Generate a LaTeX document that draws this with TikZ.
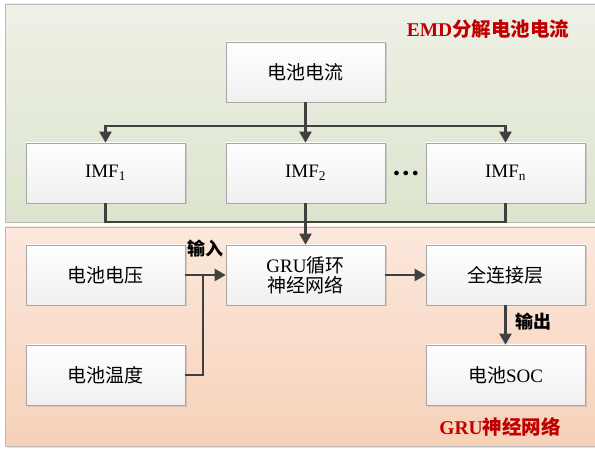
\documentclass[tikz,border=0pt]{standalone}
\usepackage{fontspec}
\setmainfont{Liberation Serif}
\newfontfamily\cjk{Noto Sans CJK SC}
\usetikzlibrary{arrows.meta,shadows}
\definecolor{linec}{HTML}{404040}
\definecolor{redc}{HTML}{C00000}
\definecolor{gtop}{HTML}{EEF1E6}
\definecolor{gbot}{HTML}{DCE4CE}
\definecolor{otop}{HTML}{FCE8DD}
\definecolor{obot}{HTML}{F6D1B8}
\tikzset{
  blk/.style={draw=gray!70, line width=0.6pt, top color=white, bottom color=gray!12,
    minimum width=159pt, minimum height=60pt, inner sep=0pt, align=center,
    font=\fontsize{19}{22}\selectfont, drop shadow={shadow xshift=1.5pt, shadow yshift=-1.5pt, opacity=0.25}},
  conn/.style={draw=linec, line width=2.2pt},
  arr/.style={conn, -{Triangle[length=11pt,width=12pt]}},
  lbl/.style={font=\cjk\fontsize{18}{20}\selectfont\bfseries},
  title/.style={font=\fontsize{19.5}{22}\selectfont\bfseries, text=redc},
  panel/.style={draw=gray!55, line width=0.8pt, drop shadow={shadow xshift=1.5pt, shadow yshift=-1.5pt, opacity=0.2}}
}
\begin{document}
\begin{tikzpicture}[x=1pt,y=-1pt]
\useasboundingbox (0,0) rectangle (595,449);
\begin{scope}
\clip (0,0) rectangle (595,449);
\fill[white] (0,0) rectangle (595,449);
\draw[panel, top color=gtop, bottom color=gbot] (5,4) rectangle (605,222);
\draw[panel, top color=otop, bottom color=obot] (5,227) rectangle (605,446);
\end{scope}
\node[title] (t1) at (488,29) {EMD{\cjk 分解电池电流}};
\node[title] (t2) at (500,427) {GRU{\cjk 神经网络}};

\node[blk] (cur) at (305.5,72) {\cjk 电池电流};
\node[blk] (imf1) at (105.5,173) {IMF\textsubscript{1}};
\node[blk] (imf2) at (305.5,173) {IMF\textsubscript{2}};
\node[blk] (imfn) at (505.5,173) {IMF\textsubscript{n}};
\node[font=\fontsize{12}{12}\selectfont, text=black] (dots) at (406,174) {$\bullet$\hspace{3.5pt}$\bullet$\hspace{3.5pt}$\bullet$};

\node[blk] (volt) at (105.5,275) {\cjk 电池电压};
\node[blk] (gru) at (305.5,275) {GRU{\cjk 循环}\\[-2pt]{\cjk 神经网络}};
\node[blk] (fc) at (505.5,275) {\cjk 全连接层};
\node[blk] (temp) at (105.5,375) {\cjk 电池温度};
\node[blk] (soc) at (505.5,375) {{\cjk 电池}SOC};

\coordinate (split) at (305.5,126);
\coordinate (merge) at (305.5,222);
\coordinate (joint) at (203,275);

\draw[conn] (cur.south) -- (split);
\draw[arr] (split) -| (imf1.north);
\draw[arr] (split) -- (imf2.north);
\draw[arr] (split) -| (imfn.north);

\draw[conn] (imf1.south) |- (merge);
\draw[conn] (imfn.south) |- (merge);
\draw[conn] (imf2.south) -- (merge);
\draw[arr] (merge) -- (gru.north);

\draw[arr] (volt.east) -- (gru.west);
\draw[conn] (temp.east) -| (joint);
\draw[arr] (gru.east) -- (fc.west);
\draw[arr] (fc.south) -- (soc.north);

\node[lbl] (in) at (205,249) {输入};
\node[lbl] (out) at (533,322) {输出};
\end{tikzpicture}
\end{document}
